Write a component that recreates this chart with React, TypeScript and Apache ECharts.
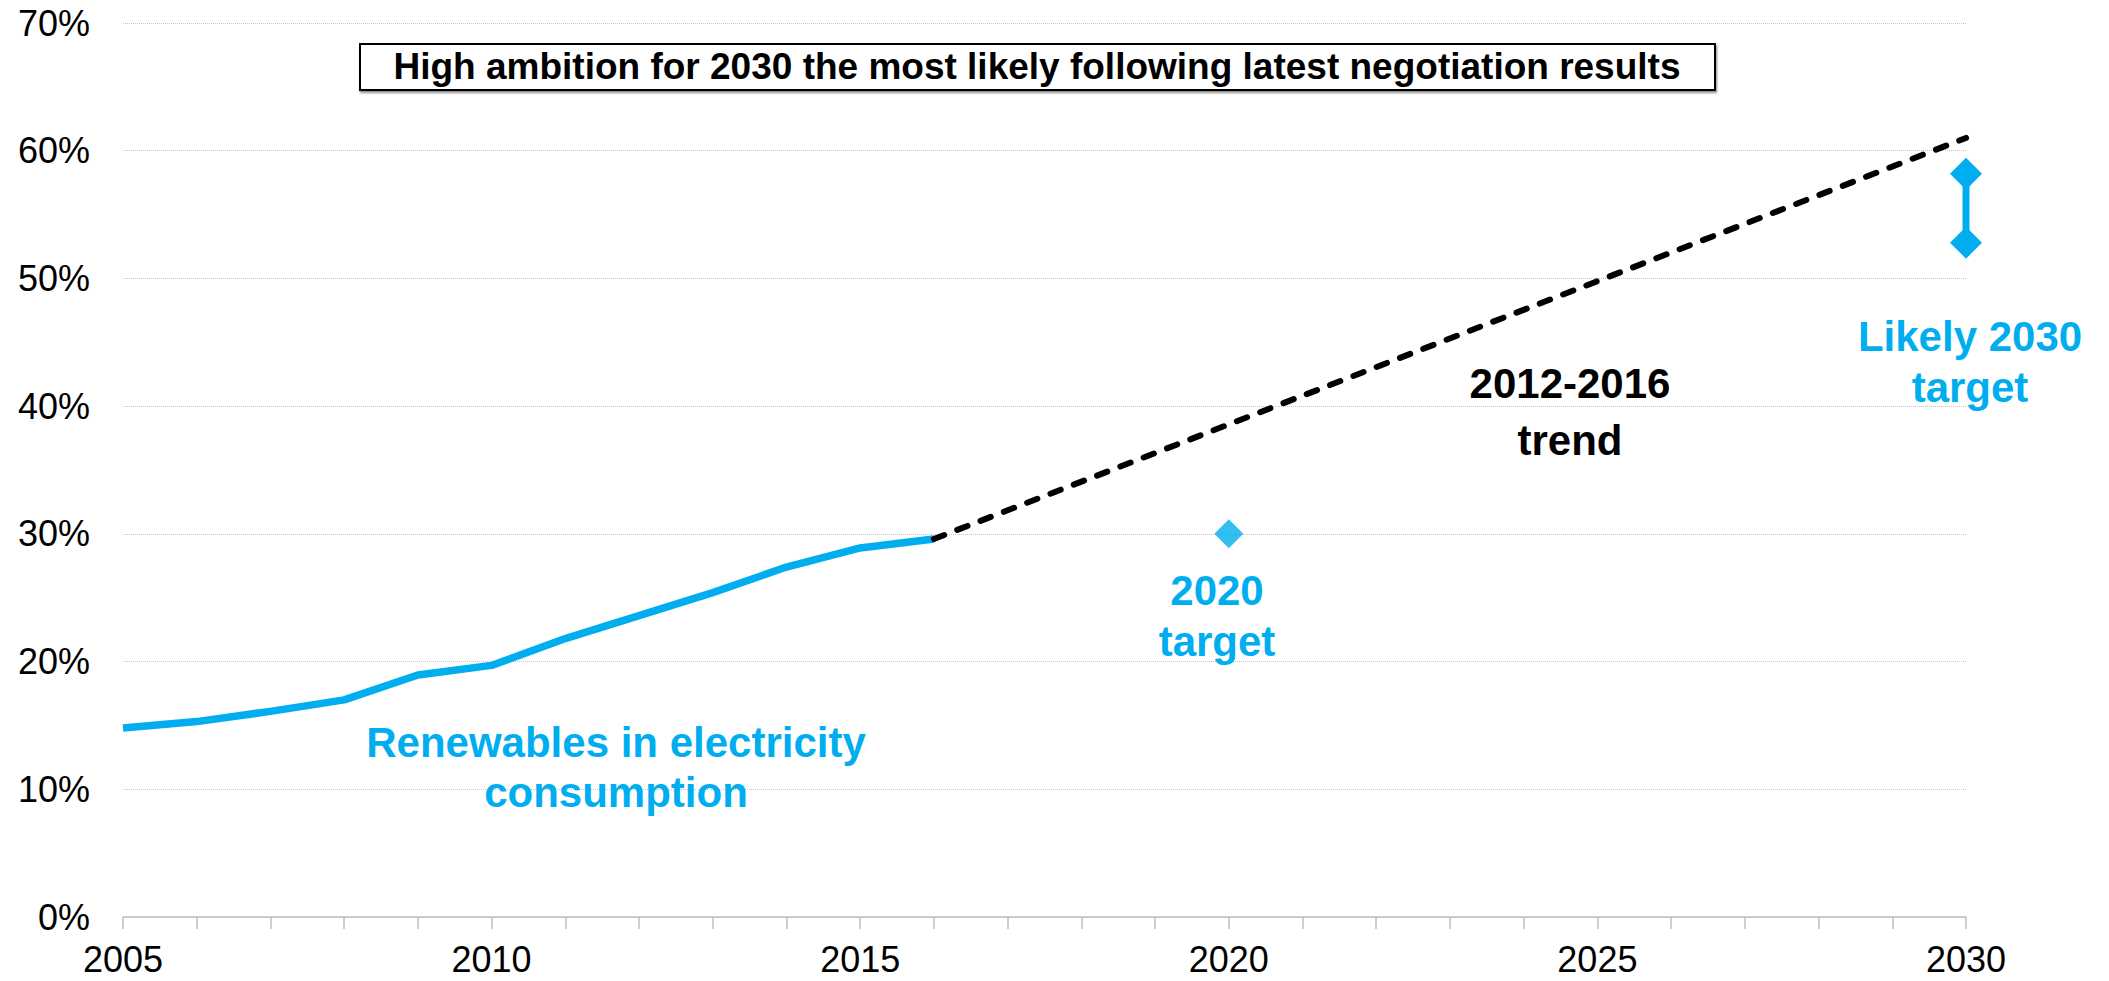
import React, { useEffect, useRef } from "react";
import * as echarts from "echarts";

const years = [2005, 2006, 2007, 2008, 2009, 2010, 2011, 2012, 2013, 2014, 2015, 2016];
const renewablesShare = [14.8, 15.3, 16.1, 17.0, 18.95, 19.7, 21.8, 23.6, 25.4, 27.4, 28.9, 29.6];
const trendYears = [2016, 2030];
const trendValues = [29.6, 61.0];
const target2020 = [2020, 30];
const target2030Year = 2030;
const target2030Range = [52.8, 58.2];
const yTicks = [0, 10, 20, 30, 40, 50, 60, 70];
const titleText = "High ambition for 2030 the most likely following latest negotiation results";

const BLUE = "#00AEEF";
const FONT = "'Liberation Sans', Arial, sans-serif";

export default function App() {
  const ref = useRef<HTMLDivElement>(null);
  useEffect(() => {
    document.body.style.margin = "0";
    const chart = echarts.init(ref.current!, null, { renderer: "svg" });
    const blueData = years.map((y, i) => [y, renewablesShare[i]]);
    const trendData = trendYears.map((y, i) => [y, trendValues[i]]);
    const rangeData = target2030Range.map((v) => [target2030Year, v]);
    const label = (text: string, x: number, y: number, color: string) => ({
      type: "text",
      x,
      y,
      style: {
        text,
        fill: color,
        font: `bold 42px ${FONT}`,
        align: "center",
        verticalAlign: "middle",
      },
      z: 10,
    });
    chart.setOption({
      animation: false,
      backgroundColor: "#ffffff",
      grid: { left: 123, right: 143, top: 23, bottom: 64, containLabel: false },
      xAxis: {
        type: "value",
        min: 2005,
        max: 2030,
        interval: 5,
        axisLine: { show: true, lineStyle: { color: "#bfbfbf", width: 1.5 } },
        axisTick: { show: true, length: 12, lineStyle: { color: "#bfbfbf", width: 1.5 } },
        minorTick: { show: true, splitNumber: 5, length: 12, lineStyle: { color: "#bfbfbf", width: 1.5 } },
        splitLine: { show: false },
        axisLabel: {
          color: "#000",
          fontFamily: FONT,
          fontSize: 36,
          margin: 24,
          formatter: (v: number) => String(v),
        },
      },
      yAxis: {
        type: "value",
        min: yTicks[0],
        max: yTicks[yTicks.length - 1],
        interval: 10,
        axisLine: { show: false },
        axisTick: { show: false },
        splitLine: { show: true, lineStyle: { color: "#c4c4c4", type: "dotted", width: 1 } },
        axisLabel: {
          color: "#000",
          fontFamily: FONT,
          fontSize: 36,
          margin: 33,
          formatter: "{value}%",
        },
      },
      series: [
        {
          type: "line",
          data: blueData,
          showSymbol: false,
          symbol: "none",
          lineStyle: { color: BLUE, width: 7.5, join: "round", cap: "butt" },
          z: 3,
        },
        {
          type: "line",
          data: trendData,
          showSymbol: false,
          symbol: "none",
          lineStyle: { color: "#000", width: 6, type: [11, 14], cap: "round" },
          z: 4,
        },
        {
          type: "scatter",
          data: [target2020],
          symbol: "diamond",
          symbolSize: 29,
          itemStyle: { color: BLUE },
          z: 5,
        },
        {
          type: "line",
          data: rangeData,
          symbol: "diamond",
          symbolSize: 32,
          showSymbol: true,
          itemStyle: { color: BLUE },
          lineStyle: { color: BLUE, width: 7 },
          z: 5,
        },
      ],
      graphic: [
        {
          type: "rect",
          shape: { x: 360, y: 44, width: 1355, height: 46 },
          style: {
            fill: "#ffffff",
            stroke: "#000000",
            lineWidth: 2,
            shadowColor: "rgba(0,0,0,0.45)",
            shadowOffsetX: 1,
            shadowOffsetY: 2,
            shadowBlur: 2,
          },
          z: 9,
        },
        {
          type: "text",
          x: 1037,
          y: 66,
          style: {
            text: titleText,
            fill: "#000",
            font: `bold 37px ${FONT}`,
            align: "center",
            verticalAlign: "middle",
          },
          z: 10,
        },
        label("Renewables in electricity", 616, 742, BLUE),
        label("consumption", 616, 792, BLUE),
        label("2020", 1217, 590, BLUE),
        label("target", 1217, 641, BLUE),
        label("2012-2016", 1570, 383, "#000"),
        label("trend", 1570, 440, "#000"),
        label("Likely 2030", 1970, 336, BLUE),
        label("target", 1970, 387, BLUE),
      ],
    });
    return () => chart.dispose();
  }, []);
  return <div ref={ref} style={{ width: 2109, height: 981 }} />;
}
